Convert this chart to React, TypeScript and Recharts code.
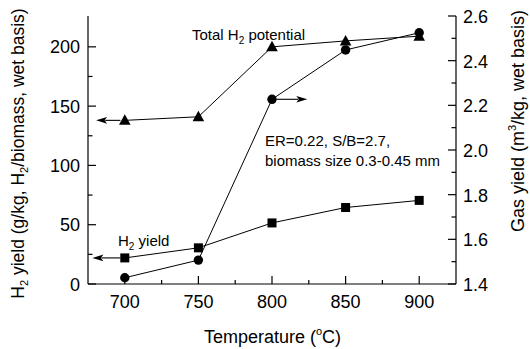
import React from 'react';
import { ComposedChart, Line, XAxis, YAxis, ReferenceLine, Customized } from 'recharts';

const temperatures = [700, 750, 800, 850, 900];
const h2Yield = [22, 30.5, 51.5, 64.5, 70.5];
const totalH2Potential = [138, 141, 200, 205, 209];
const gasYield = [1.428, 1.507, 2.227, 2.448, 2.525];

const xTicks = [700, 725, 750, 775, 800, 825, 850, 875, 900];
const xMajorTicks = [700, 750, 800, 850, 900];
const leftTicks = [0, 25, 50, 75, 100, 125, 150, 175, 200];
const leftMajorTicks = [0, 50, 100, 150, 200];
const rightTicks = [1.4, 1.5, 1.6, 1.7, 1.8, 1.9, 2.0, 2.1, 2.2, 2.3, 2.4, 2.5, 2.6];
const rightMajorTicks = [1.4, 1.6, 1.8, 2.0, 2.2, 2.4, 2.6];
const rightTickLabels = ['1.4', '1.6', '1.8', '2.0', '2.2', '2.4', '2.6'];

// arrow annotations (data coordinates)
const arrows = [
  { axis: 'left', from: 697, to: 680.5, y: totalH2Potential[0] },
  { axis: 'left', from: 697, to: 678, y: h2Yield[0] },
  { axis: 'right', from: 803, to: 824, y: gasYield[2] },
];

const data = temperatures.map((t, i) => ({
  t,
  h2: h2Yield[i],
  total: totalH2Potential[i],
  gas: gasYield[i],
}));

const FONT = '"Liberation Sans", Arial, Helvetica, sans-serif';
const INK = '#000';

const near = (arr: number[], v: number) => arr.findIndex((a) => Math.abs(a - v) < 1e-6);

const XTick = (props: any) => {
  const { x, y, payload } = props;
  const major = near(xMajorTicks, payload.value) >= 0;
  return (
    <g>
      <line x1={x} y1={y} x2={x} y2={y - (major ? 8 : 4)} stroke={INK} strokeWidth={1.2} />
      {major && (
        <text x={x} y={y + 24} textAnchor="middle" fontSize={18} fontFamily={FONT} fill={INK}>
          {payload.value}
        </text>
      )}
    </g>
  );
};

const LeftTick = (props: any) => {
  const { x, y, payload } = props;
  const major = near(leftMajorTicks, payload.value) >= 0;
  return (
    <g>
      <line x1={x} y1={y} x2={x + (major ? 8 : 4.5)} y2={y} stroke={INK} strokeWidth={1.2} />
      {major && (
        <text x={x - 8} y={y + 6.5} textAnchor="end" fontSize={18} fontFamily={FONT} fill={INK}>
          {payload.value}
        </text>
      )}
    </g>
  );
};

const RightTick = (props: any) => {
  const { x, y, payload } = props;
  const idx = near(rightMajorTicks, payload.value);
  const major = idx >= 0;
  return (
    <g>
      <line x1={x} y1={y} x2={x - (major ? 8 : 4.5)} y2={y} stroke={INK} strokeWidth={1.2} />
      {major && (
        <text x={x + 7} y={y + 7} textAnchor="start" fontSize={18} fontFamily={FONT} fill={INK}>
          {rightTickLabels[idx]}
        </text>
      )}
    </g>
  );
};

const SquareDot = (props: any) => {
  const { cx, cy } = props;
  if (cx == null || cy == null) return <g />;
  return <rect x={cx - 4.5} y={cy - 4.5} width={9} height={9} fill={INK} />;
};

const TriangleDot = (props: any) => {
  const { cx, cy } = props;
  if (cx == null || cy == null) return <g />;
  return <polygon points={`${cx},${cy - 6} ${cx + 5.8},${cy + 4.5} ${cx - 5.8},${cy + 4.5}`} fill={INK} />;
};

const CircleDot = (props: any) => {
  const { cx, cy } = props;
  if (cx == null || cy == null) return <g />;
  return <circle cx={cx} cy={cy} r={4.7} fill={INK} />;
};

const Arrow = (p: any) => {
  const { x1, y1, x2, y2 } = p;
  const dx = x2 - x1;
  const dy = y2 - y1;
  const len = Math.hypot(dx, dy) || 1;
  const ux = dx / len;
  const uy = dy / len;
  const hl = 11;
  const hw = 3.3;
  const bx = x2 - ux * hl;
  const by = y2 - uy * hl;
  return (
    <g>
      <line x1={x1} y1={y1} x2={bx + ux * 2} y2={by + uy * 2} stroke={INK} strokeWidth={1.1} />
      <polygon
        points={`${x2},${y2} ${bx - uy * hw},${by + ux * hw} ${bx + ux * 2.5},${by + uy * 2.5} ${bx + uy * hw},${by - ux * hw}`}
        fill={INK}
      />
    </g>
  );
};

const Annotations = () => (
  <g fontFamily={FONT} fill={INK}>
    <text x={192} y={40} fontSize={15}>
      Total H<tspan fontSize={10} dy={4}>2</tspan>
      <tspan dy={-4}> potential</tspan>
    </text>
    <text x={118} y={246} fontSize={15}>
      H<tspan fontSize={10} dy={4}>2</tspan>
      <tspan dy={-4}> yield</tspan>
    </text>
    <text x={265} y={146} fontSize={15}>ER=0.22, S/B=2.7,</text>
    <text x={265} y={166} fontSize={15}>biomass size 0.3-0.45 mm</text>
    <text x={272.5} y={343} fontSize={18} textAnchor="middle">
      Temperature (<tspan fontSize={11} dy={-8}>o</tspan>
      <tspan dy={8}>C)</tspan>
    </text>
    <text x={24} y={153.5} fontSize={17.5} textAnchor="middle" transform="rotate(-90, 24, 153.5)">
      H<tspan fontSize={11} dy={4}>2</tspan>
      <tspan dy={-4}> yield (g/kg, H</tspan>
      <tspan fontSize={11} dy={4}>2</tspan>
      <tspan dy={-4}>/biomass, wet basis)</tspan>
    </text>
    <text x={524} y={121} fontSize={18} textAnchor="middle" transform="rotate(-90, 524, 121)">
      Gas yield (m<tspan fontSize={11} dy={-8}>3</tspan>
      <tspan dy={8}>/kg, wet basis)</tspan>
    </text>
  </g>
);

export default function App() {
  return (
    <div style={{ position: 'absolute', left: 0, top: 0, width: 530, height: 349, background: '#fff' }}>
      <ComposedChart width={530} height={349} data={data} margin={{ top: 16, right: 0, bottom: 0, left: 0 }}>
        <XAxis
          dataKey="t"
          type="number"
          domain={[675, 925]}
          ticks={xTicks}
          interval={0}
          tick={XTick}
          tickLine={false}
          tickSize={0}
          tickMargin={0}
          height={65}
          axisLine={{ stroke: INK, strokeWidth: 1.2 }}
        />
        <XAxis
          xAxisId="top"
          dataKey="t"
          type="number"
          orientation="top"
          domain={[675, 925]}
          height={0}
          tick={false}
          tickLine={false}
          axisLine={{ stroke: INK, strokeWidth: 1.2 }}
        />
        <YAxis
          yAxisId="left"
          type="number"
          domain={[0, 226]}
          ticks={leftTicks}
          interval={0}
          tick={LeftTick}
          tickLine={false}
          tickSize={0}
          tickMargin={0}
          width={88}
          axisLine={{ stroke: INK, strokeWidth: 1.2 }}
        />
        <YAxis
          yAxisId="right"
          orientation="right"
          type="number"
          domain={[1.4, 2.6]}
          ticks={rightTicks}
          interval={0}
          tick={RightTick}
          tickLine={false}
          tickSize={0}
          tickMargin={0}
          width={74}
          axisLine={{ stroke: INK, strokeWidth: 1.2 }}
        />
        {arrows.map((a, i) => (
          <ReferenceLine
            key={`arrow-${i}`}
            yAxisId={a.axis}
            segment={[
              { x: a.from, y: a.y },
              { x: a.to, y: a.y },
            ]}
            shape={Arrow}
            ifOverflow="visible"
          />
        ))}
        <Line
          yAxisId="left"
          dataKey="h2"
          stroke={INK}
          strokeWidth={1}
          dot={SquareDot}
          activeDot={false}
          isAnimationActive={false}
        />
        <Line
          yAxisId="left"
          dataKey="total"
          stroke={INK}
          strokeWidth={1}
          dot={TriangleDot}
          activeDot={false}
          isAnimationActive={false}
        />
        <Line
          yAxisId="right"
          dataKey="gas"
          stroke={INK}
          strokeWidth={1}
          dot={CircleDot}
          activeDot={false}
          isAnimationActive={false}
        />
        <Customized component={Annotations} />
      </ComposedChart>
    </div>
  );
}
